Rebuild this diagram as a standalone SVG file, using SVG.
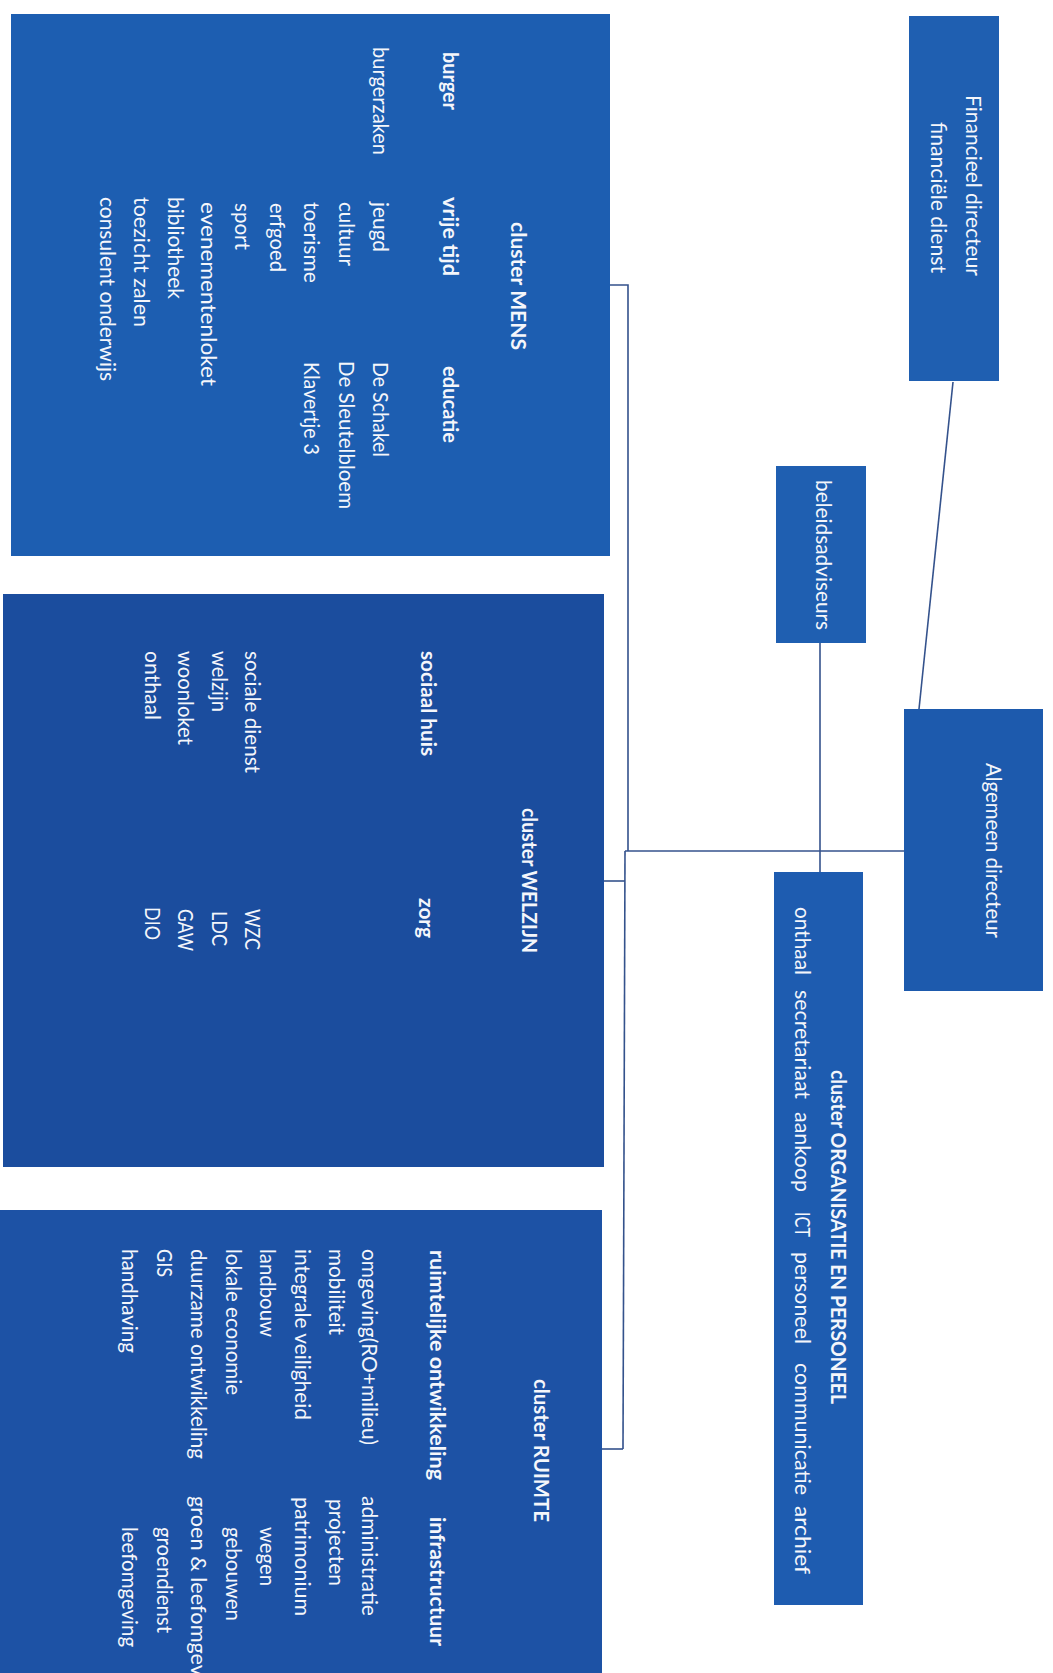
<svg xmlns="http://www.w3.org/2000/svg" width="1053" height="1673" viewBox="0 0 1053 1673">
<style>
.bg{fill:#ffffff}
.box{stroke:none}
.mens{fill:#1d5eb1}
.welz{fill:#1b4d9e}
.ruim{fill:#1d52a5}
.top{fill:#1f5fb1}
.t{font-family:Lato,"Open Sans","Liberation Sans",sans-serif;font-size:21px;fill:#f4f6fb}
.b{font-weight:bold}
.conn{fill:none;stroke:#34528c;stroke-width:1.6}
</style>
<rect class="bg" x="0" y="0" width="1053" height="1673"/>

<g id="connectors">
<line class="conn" x1="953" y1="382" x2="919" y2="709"/>
<line class="conn" x1="820" y1="643" x2="820" y2="872"/>
<polyline class="conn" points="610,285 628,285 628,851"/>
<line class="conn" x1="625" y1="851" x2="904" y2="851"/>
<line class="conn" x1="625" y1="851" x2="623" y2="1449"/>
<line class="conn" x1="604" y1="881" x2="625" y2="881"/>
<line class="conn" x1="602" y1="1449" x2="623" y2="1449"/>
</g>

<g id="financieel">
<rect class="box top" x="909" y="16" width="90" height="365"/>
<g transform="rotate(90)">
<text class="t" x="95" y="-966" textLength="181" lengthAdjust="spacingAndGlyphs">Financieel directeur</text>
<text class="t" x="122" y="-931" textLength="151" lengthAdjust="spacingAndGlyphs">financiële dienst</text>
</g>
</g>

<g id="beleidsadviseurs">
<rect class="box top" x="776" y="466" width="90" height="177"/>
<g transform="rotate(90)">
<text class="t" x="480" y="-816" textLength="150" lengthAdjust="spacingAndGlyphs">beleidsadviseurs</text>
</g>
</g>

<g id="algemeen">
<rect class="box top" x="904" y="709" width="139" height="282" style="fill:#1d5aad"/>
<g transform="rotate(90)">
<text class="t" x="763" y="-986" textLength="175" lengthAdjust="spacingAndGlyphs">Algemeen directeur</text>
</g>
</g>

<g id="organisatie">
<rect class="box top" x="774" y="872" width="89" height="733" style="fill:#1e5cb0"/>
<g transform="rotate(90)">
<text class="t b" x="1070" y="-831" textLength="334" lengthAdjust="spacingAndGlyphs">cluster ORGANISATIE EN PERSONEEL</text>
<text class="t" x="907" y="-795" textLength="68" lengthAdjust="spacingAndGlyphs">onthaal</text>
<text class="t" x="990" y="-795" textLength="109" lengthAdjust="spacingAndGlyphs">secretariaat</text>
<text class="t" x="1112" y="-795" textLength="80" lengthAdjust="spacingAndGlyphs">aankoop</text>
<text class="t" x="1212" y="-795" textLength="25" lengthAdjust="spacingAndGlyphs">ICT</text>
<text class="t" x="1252" y="-795" textLength="92" lengthAdjust="spacingAndGlyphs">personeel</text>
<text class="t" x="1363" y="-795" textLength="132" lengthAdjust="spacingAndGlyphs">communicatie</text>
<text class="t" x="1506" y="-795" textLength="68" lengthAdjust="spacingAndGlyphs">archief</text>
</g>
</g>

<g id="mens">
<rect class="box mens" x="11" y="14" width="599" height="542"/>
<g transform="rotate(90)">
<text class="t b" x="222" y="-511" textLength="128" lengthAdjust="spacingAndGlyphs">cluster MENS</text>
<text class="t b" x="52" y="-443" textLength="58" lengthAdjust="spacingAndGlyphs">burger</text>
<text class="t b" x="197" y="-443" textLength="79" lengthAdjust="spacingAndGlyphs">vrije tijd</text>
<text class="t b" x="366" y="-443" textLength="77" lengthAdjust="spacingAndGlyphs">educatie</text>
<text class="t" x="47" y="-373" textLength="108" lengthAdjust="spacingAndGlyphs">burgerzaken</text>
<text class="t" x="202" y="-373" textLength="50" lengthAdjust="spacingAndGlyphs">jeugd</text>
<text class="t" x="362" y="-373" textLength="95" lengthAdjust="spacingAndGlyphs">De Schakel</text>
<text class="t" x="202" y="-339" textLength="64" lengthAdjust="spacingAndGlyphs">cultuur</text>
<text class="t" x="361" y="-339" textLength="148" lengthAdjust="spacingAndGlyphs">De Sleutelbloem</text>
<text class="t" x="202" y="-304" textLength="81" lengthAdjust="spacingAndGlyphs">toerisme</text>
<text class="t" x="362" y="-304" textLength="93" lengthAdjust="spacingAndGlyphs">Klavertje 3</text>
<text class="t" x="203" y="-270" textLength="69" lengthAdjust="spacingAndGlyphs">erfgoed</text>
<text class="t" x="203" y="-235" textLength="47" lengthAdjust="spacingAndGlyphs">sport</text>
<text class="t" x="202" y="-201" textLength="184" lengthAdjust="spacingAndGlyphs">evenementenloket</text>
<text class="t" x="197" y="-168" textLength="102" lengthAdjust="spacingAndGlyphs">bibliotheek</text>
<text class="t" x="197" y="-134" textLength="130" lengthAdjust="spacingAndGlyphs">toezicht zalen</text>
<text class="t" x="197" y="-100" textLength="184" lengthAdjust="spacingAndGlyphs">consulent onderwijs</text>
</g>
</g>

<g id="welzijn">
<rect class="box welz" x="3" y="594" width="601" height="573"/>
<g transform="rotate(90)">
<text class="t b" x="808" y="-522" textLength="145" lengthAdjust="spacingAndGlyphs">cluster WELZIJN</text>
<text class="t b" x="651" y="-421" textLength="105" lengthAdjust="spacingAndGlyphs">sociaal huis</text>
<text class="t b" x="898" y="-419" textLength="40" lengthAdjust="spacingAndGlyphs">zorg</text>
<text class="t" x="651" y="-245" textLength="122" lengthAdjust="spacingAndGlyphs">sociale dienst</text>
<text class="t" x="909" y="-245" textLength="41" lengthAdjust="spacingAndGlyphs">WZC</text>
<text class="t" x="651" y="-212" textLength="61" lengthAdjust="spacingAndGlyphs">welzijn</text>
<text class="t" x="911" y="-212" textLength="35" lengthAdjust="spacingAndGlyphs">LDC</text>
<text class="t" x="651" y="-178" textLength="94" lengthAdjust="spacingAndGlyphs">woonloket</text>
<text class="t" x="909" y="-178" textLength="42" lengthAdjust="spacingAndGlyphs">GAW</text>
<text class="t" x="651" y="-145" textLength="69" lengthAdjust="spacingAndGlyphs">onthaal</text>
<text class="t" x="907" y="-145" textLength="33" lengthAdjust="spacingAndGlyphs">DIO</text>
</g>
</g>

<g id="ruimte">
<rect class="box ruim" x="0" y="1210" width="602" height="463"/>
<g transform="rotate(90)">
<text class="t b" x="1379" y="-534" textLength="143" lengthAdjust="spacingAndGlyphs">cluster RUIMTE</text>
<text class="t b" x="1250" y="-430" textLength="230" lengthAdjust="spacingAndGlyphs">ruimtelijke ontwikkeling</text>
<text class="t b" x="1517" y="-430" textLength="129" lengthAdjust="spacingAndGlyphs">infrastructuur</text>
<text class="t" x="1249" y="-362" textLength="196" lengthAdjust="spacingAndGlyphs">omgeving(RO+milieu)</text>
<text class="t" x="1496" y="-362" textLength="120" lengthAdjust="spacingAndGlyphs">administratie</text>
<text class="t" x="1249" y="-329" textLength="86" lengthAdjust="spacingAndGlyphs">mobiliteit</text>
<text class="t" x="1499" y="-329" textLength="87" lengthAdjust="spacingAndGlyphs">projecten</text>
<text class="t" x="1249" y="-295" textLength="171" lengthAdjust="spacingAndGlyphs">integrale veiligheid</text>
<text class="t" x="1497" y="-295" textLength="119" lengthAdjust="spacingAndGlyphs">patrimonium</text>
<text class="t" x="1249" y="-260" textLength="88" lengthAdjust="spacingAndGlyphs">landbouw</text>
<text class="t" x="1527" y="-260" textLength="59" lengthAdjust="spacingAndGlyphs">wegen</text>
<text class="t" x="1249" y="-226" textLength="146" lengthAdjust="spacingAndGlyphs">lokale economie</text>
<text class="t" x="1527" y="-226" textLength="94" lengthAdjust="spacingAndGlyphs">gebouwen</text>
<text class="t" x="1249" y="-191" textLength="210" lengthAdjust="spacingAndGlyphs">duurzame ontwikkeling</text>
<text class="t" x="1496" y="-191" textLength="180" lengthAdjust="spacingAndGlyphs">groen &amp; leefomgev</text>
<text class="t" x="1249" y="-157" textLength="28" lengthAdjust="spacingAndGlyphs">GIS</text>
<text class="t" x="1527" y="-157" textLength="106" lengthAdjust="spacingAndGlyphs">groendienst</text>
<text class="t" x="1249" y="-122" textLength="104" lengthAdjust="spacingAndGlyphs">handhaving</text>
<text class="t" x="1527" y="-122" textLength="120" lengthAdjust="spacingAndGlyphs">leefomgeving</text>
</g>
</g>
</svg>
